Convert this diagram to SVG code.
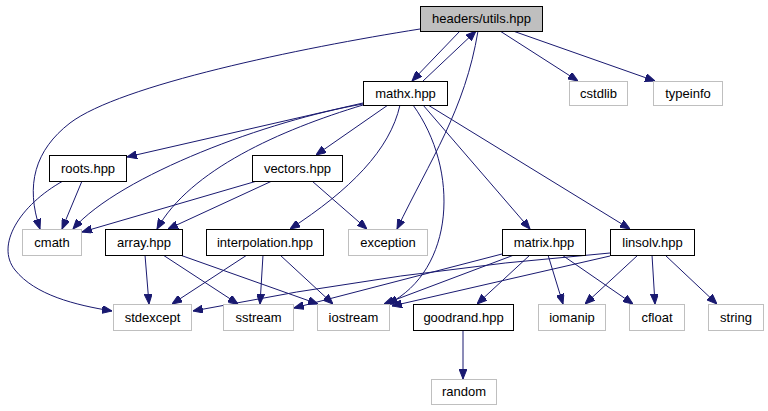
<svg xmlns="http://www.w3.org/2000/svg" width="768" height="411" viewBox="0 0 768 411">
<style>
.n rect{fill:#fff;stroke:#000;stroke-width:1}
.x rect{fill:#fff;stroke:#bfbfbf;stroke-width:1}
.m rect{fill:#bfbfbf;stroke:#000;stroke-width:1}
text{font-family:"Liberation Sans",Arial,sans-serif;font-size:13px;fill:#000;text-anchor:middle}
#edges path{fill:none;stroke:#191970;stroke-width:1;marker-end:url(#ah)}
</style>
<defs>
<marker id="ah" viewBox="0 0 10 8" refX="10" refY="4" markerWidth="10" markerHeight="8" orient="auto" markerUnits="userSpaceOnUse">
<path d="M0,0 L10,4 L0,8 z" fill="#191970" stroke="#191970"/>
</marker>
</defs>
<rect width="768" height="411" fill="#fff"/>
<g id="edges">
<path d="M460,31 L412,81"/>
<path d="M423,81 L476,31"/>
<path d="M420,29 C300,48 120,85 70,123 C35,150 25,185 40,229"/>
<path d="M478,31 C465,110 430,160 397,229"/>
<path d="M500,31 L578,81"/>
<path d="M513,31 L655,81"/>
<path d="M363,103 L127,157"/>
<path d="M363,104 C270,120 120,175 73,229"/>
<path d="M363,105 C280,130 190,170 157,229"/>
<path d="M388,105 L316,155"/>
<path d="M400,105 C390,150 350,190 290,229"/>
<path d="M413,105 C460,170 455,270 388,304"/>
<path d="M423,105 L530,229"/>
<path d="M428,105 L630,229"/>
<path d="M82,181 L62,229"/>
<path d="M63,181 C20,205 -5,245 15,270 C35,295 75,305 112,311"/>
<path d="M257,181 L82,232"/>
<path d="M272,181 L168,229"/>
<path d="M312,181 L367,229"/>
<path d="M145,255 L149,304"/>
<path d="M163,255 L238,304"/>
<path d="M180,255 L318,304"/>
<path d="M247,255 L172,304"/>
<path d="M263,255 L260,304"/>
<path d="M280,255 L333,304"/>
<path d="M502,254 L294,308"/>
<path d="M610,253 Q400,270 193,311"/>
<path d="M514,255 L384,304"/>
<path d="M530,255 L477,304"/>
<path d="M548,255 L563,304"/>
<path d="M562,255 L633,304"/>
<path d="M610,256 L392,306"/>
<path d="M638,255 L585,304"/>
<path d="M652,255 L655,304"/>
<path d="M665,255 L717,304"/>
<path d="M463,330 L463,379"/>
</g>
<g id="utils" class="m"><rect x="420.5" y="6.5" width="122" height="25"/><text x="481.5" y="23">headers/utils.hpp</text></g>
<g id="mathx" class="n"><rect x="363.5" y="81.5" width="84" height="24"/><text x="405.5" y="98">mathx.hpp</text></g>
<g id="cstdlib" class="x"><rect x="569.5" y="81.5" width="58" height="24"/><text x="598.5" y="98">cstdlib</text></g>
<g id="typeinfo" class="x"><rect x="653.5" y="81.5" width="69" height="24"/><text x="688" y="98">typeinfo</text></g>
<g id="roots" class="n"><rect x="49.5" y="155.5" width="77" height="26"/><text x="88" y="173">roots.hpp</text></g>
<g id="vectors" class="n"><rect x="252.5" y="155.5" width="90" height="26"/><text x="297.5" y="173">vectors.hpp</text></g>
<g id="cmath" class="x"><rect x="22.5" y="229.5" width="59" height="26"/><text x="52" y="247">cmath</text></g>
<g id="array" class="n"><rect x="105.5" y="229.5" width="77" height="26"/><text x="144" y="247">array.hpp</text></g>
<g id="interpolation" class="n"><rect x="206.5" y="229.5" width="117" height="26"/><text x="265" y="247">interpolation.hpp</text></g>
<g id="exception" class="x"><rect x="348.5" y="229.5" width="79" height="26"/><text x="388" y="247">exception</text></g>
<g id="matrix" class="n"><rect x="502.5" y="229.5" width="83" height="26"/><text x="544" y="247">matrix.hpp</text></g>
<g id="linsolv" class="n"><rect x="610.5" y="229.5" width="84" height="26"/><text x="652.5" y="247">linsolv.hpp</text></g>
<g id="stdexcept" class="x"><rect x="113.5" y="304.5" width="78" height="26"/><text x="152.5" y="322">stdexcept</text></g>
<g id="sstream" class="x"><rect x="223.5" y="304.5" width="70" height="26"/><text x="258.5" y="322">sstream</text></g>
<g id="iostream" class="x"><rect x="317.5" y="304.5" width="72" height="26"/><text x="353.5" y="322">iostream</text></g>
<g id="goodrand" class="n"><rect x="413.5" y="304.5" width="100" height="26"/><text x="463.5" y="322">goodrand.hpp</text></g>
<g id="iomanip" class="x"><rect x="538.5" y="304.5" width="67" height="26"/><text x="572" y="322">iomanip</text></g>
<g id="cfloat" class="x"><rect x="629.5" y="304.5" width="55" height="26"/><text x="657" y="322">cfloat</text></g>
<g id="string" class="x"><rect x="708.5" y="304.5" width="55" height="26"/><text x="736" y="322">string</text></g>
<g id="random" class="x"><rect x="431.5" y="379.5" width="65" height="25"/><text x="464" y="396">random</text></g>
</svg>
